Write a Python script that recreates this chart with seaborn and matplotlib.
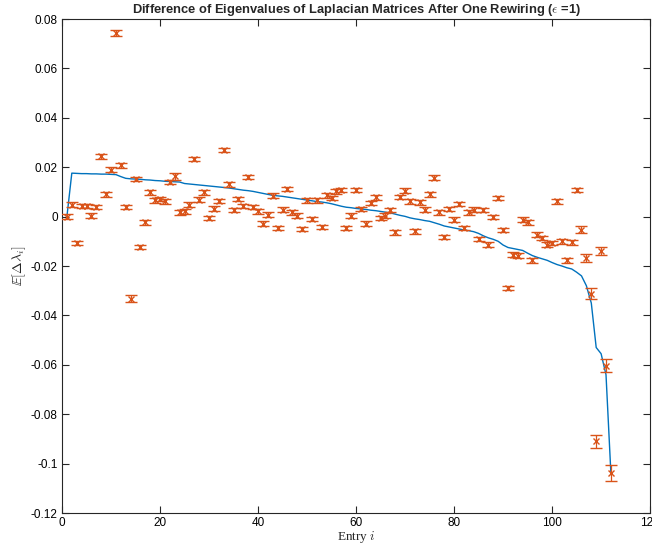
import numpy as np
import pandas as pd
import matplotlib
matplotlib.use("Agg")
import matplotlib.pyplot as plt
import seaborn as sns
from matplotlib.ticker import FuncFormatter

# ---- data ----
entry = list(range(1, 113))

mean_diff = [
    0.0, 0.0049, -0.0107, 0.0042, 0.0043, 0.0004, 0.0040, 0.0244, 0.0090, 0.0190,
    0.0744, 0.0207, 0.0040, -0.0332, 0.0153, -0.0123, -0.0023, 0.0098, 0.0066, 0.0072,
    0.0062, 0.0139, 0.0163, 0.0017, 0.0021, 0.0049, 0.0234, 0.0069, 0.0098, -0.0005,
    0.0032, 0.0064, 0.0269, 0.0130, 0.0027, 0.0072, 0.0042, 0.0161, 0.0040, 0.0021,
    -0.0028, 0.0008, 0.0085, -0.0046, 0.0028, 0.0112, 0.0017, 0.0004, -0.0050, 0.0066,
    -0.0009, 0.0066, -0.0042, 0.0086, 0.0076, 0.0102, 0.0107, -0.0047, 0.0004, 0.0108,
    0.0031, -0.0028, 0.0055, 0.0078, -0.0005, 0.0004, 0.0026, -0.0064, 0.0080, 0.0105,
    0.0062, -0.0060, 0.0058, 0.0028, 0.0090, 0.0158, 0.0017, -0.0082, 0.0031, -0.0012,
    0.0051, -0.0046, 0.0017, 0.0028, -0.0090, 0.0026, -0.0113, -0.0001, 0.0076, -0.0055,
    -0.0289, -0.0154, -0.0158, -0.0012, -0.0023, -0.0177, -0.0073, -0.0086, -0.0113, -0.0107,
    0.0062, -0.0100, -0.0177, -0.0104, 0.0107, -0.0053, -0.0167, -0.0312, -0.0910, -0.0140,
    -0.0603, -0.1038,
]

err = [0.0009] * 112
err[10] = 0.0013
err[13] = 0.0013
err[22] = 0.0013
err[105] = 0.0015
err[106] = 0.0017
err[107] = 0.0023
err[108] = 0.0027
err[109] = 0.0015
err[110] = 0.0028
err[111] = 0.0034

theory = [
    0.0, 0.0176, 0.0175, 0.0174, 0.0174, 0.0173, 0.0173, 0.0172, 0.0172, 0.0171,
    0.0170, 0.0162, 0.0155, 0.0153, 0.0152, 0.0151, 0.0149, 0.0148, 0.0146, 0.0145,
    0.0143, 0.0142, 0.0141, 0.0140, 0.0134, 0.0132, 0.0130, 0.0128, 0.0126, 0.0124,
    0.0122, 0.0120, 0.0118, 0.0116, 0.0113, 0.0110, 0.0107, 0.0105, 0.0102, 0.0098,
    0.0094, 0.0090, 0.0086, 0.0084, 0.0082, 0.0079, 0.0076, 0.0073, 0.0070, 0.0067,
    0.0064, 0.0061, 0.0059, 0.0056, 0.0052, 0.0047, 0.0042, 0.0038, 0.0036, 0.0033,
    0.0031, 0.0029, 0.0026, 0.0024, 0.0021, 0.0018, 0.0015, 0.0010, 0.0005, 0.0001,
    -0.0005, -0.0009, -0.0012, -0.0016, -0.0019, -0.0025, -0.0031, -0.0038, -0.0042, -0.0046,
    -0.0050, -0.0054, -0.0057, -0.0061, -0.0068, -0.0078, -0.0086, -0.0092, -0.0100, -0.0115,
    -0.0125, -0.0129, -0.0133, -0.0137, -0.0148, -0.0158, -0.0165, -0.0171, -0.0177, -0.0186,
    -0.0194, -0.0200, -0.0207, -0.0212, -0.0225, -0.0240, -0.0280, -0.0350, -0.0530, -0.0555,
    -0.0640, -0.1040,
]

x_ticks = [0, 20, 40, 60, 80, 100, 120]
y_ticks = [-0.12, -0.1, -0.08, -0.06, -0.04, -0.02, 0, 0.02, 0.04, 0.06, 0.08]

title = r"Difference of Eigenvalues of Laplacian Matrices After One Rewiring ($\epsilon$ =1)"

# ---- plot ----
sns.set_theme(style="ticks")
plt.rcParams["font.family"] = ["Liberation Sans", "DejaVu Sans"]
plt.rcParams["mathtext.fontset"] = "cm"

blue = "#0072BD"
orange = "#D95319"

df_line = pd.DataFrame({"entry": entry, "theory": theory})

fig = plt.figure(figsize=(6.52, 5.46), dpi=100)
ax = fig.add_axes([0.0951, 0.0604, 0.902, 0.9048])

sns.lineplot(data=df_line, x="entry", y="theory", ax=ax, color=blue,
             linewidth=1.0, estimator=None, sort=False)
ax.errorbar(entry, mean_diff, yerr=err, fmt="x", color=orange, ecolor=orange,
            markersize=4.5, markeredgewidth=1.0, elinewidth=0.9, capsize=4,
            capthick=0.9, zorder=3)

ax.set_xlim(0, 120)
ax.set_ylim(-0.12, 0.08)
ax.set_xticks(x_ticks)
ax.set_yticks(y_ticks)
ax.yaxis.set_major_formatter(FuncFormatter(lambda v, p: "%g" % round(v, 4)))
ax.tick_params(direction="in", length=5, width=0.8, labelsize=8.5, pad=3,
               top=True, right=True, colors="#262626", labelcolor="black")
for s in ax.spines.values():
    s.set_visible(True)
    s.set_linewidth(0.8)
    s.set_color("#262626")

ax.set_title(title, fontsize=9.3, fontweight="bold", pad=4)
ax.set_xlabel(r"Entry $i$", fontsize=9.5, labelpad=0)
ax.xaxis.label.set_fontfamily(["Liberation Serif", "DejaVu Serif"])
ax.set_ylabel(r"$\mathbb{E}[\Delta\lambda_i]$", fontsize=10, labelpad=2)

fig.savefig("out.png", dpi=100)
